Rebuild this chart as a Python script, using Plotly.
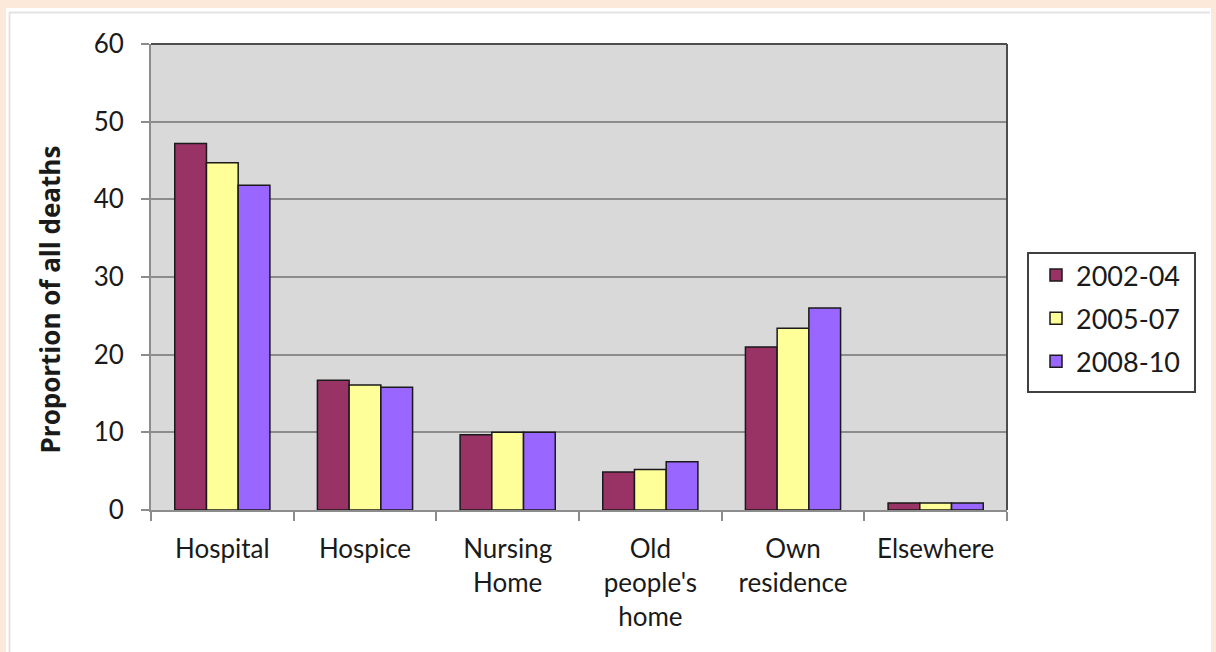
import plotly.graph_objects as go

categories = ["Hospital", "Hospice", "Nursing<br>Home", "Old<br>people's<br>home", "Own<br>residence", "Elsewhere"]
series_names = ["2002-04", "2005-07", "2008-10"]
values_2002_04 = [47.2, 16.7, 9.7, 4.9, 21.0, 0.9]
values_2005_07 = [44.7, 16.1, 10.0, 5.2, 23.4, 0.9]
values_2008_10 = [41.8, 15.8, 10.0, 6.2, 26.0, 0.9]
colors = ["#993366", "#FFFF99", "#9966FF"]

W, H = 1216, 652
L, R, T, B = 151, 1007, 44, 510  # plot area pixel box


def px(x):
    return (x - L) / (R - L)


def py(y):
    return (B - y) / (B - T)


font_family = "Lato, 'Open Sans', sans-serif"
text_color = "#1a1a1a"
peach = "#FCE9DA"

fig = go.Figure()
for name, vals, col in zip(series_names, [values_2002_04, values_2005_07, values_2008_10], colors):
    fig.add_trace(go.Bar(
        x=categories, y=vals, name=name, legendgroup=name,
        marker=dict(color=col, line=dict(color="#1a1a1a", width=1.5)),
    ))

shapes = [
    # peach page border strips
    dict(type="rect", xref="paper", yref="paper", x0=px(0), x1=px(W), y0=py(8), y1=py(0),
         fillcolor=peach, line=dict(width=0), layer="below"),
    dict(type="rect", xref="paper", yref="paper", x0=px(0), x1=px(6), y0=py(H), y1=py(0),
         fillcolor=peach, line=dict(width=0), layer="below"),
    dict(type="rect", xref="paper", yref="paper", x0=px(1211), x1=px(W), y0=py(H), y1=py(0),
         fillcolor=peach, line=dict(width=0), layer="below"),
    # light grey inner frame lines
    dict(type="line", xref="paper", yref="paper", x0=px(9), x1=px(1210), y0=py(12.5), y1=py(12.5),
         line=dict(color="#E3E3E3", width=2)),
    dict(type="line", xref="paper", yref="paper", x0=px(9.5), x1=px(9.5), y0=py(12.5), y1=py(H),
         line=dict(color="#E3E3E3", width=2)),
    # darker top and right plot border
    dict(type="line", xref="paper", yref="paper", x0=0, x1=1, y0=1, y1=1,
         line=dict(color="#4d4d4d", width=2)),
    dict(type="line", xref="paper", yref="paper", x0=1, x1=1, y0=0, y1=1,
         line=dict(color="#4d4d4d", width=2)),
    # legend frame
    dict(type="rect", xref="paper", yref="paper", x0=px(1028), x1=px(1195), y0=py(392), y1=py(253),
         line=dict(color="#404040", width=2), fillcolor="rgba(0,0,0,0)"),
]

fig.update_layout(
    width=W, height=H,
    margin=dict(l=L, r=W - R, t=T, b=H - B, pad=0),
    paper_bgcolor="white",
    plot_bgcolor="#D9D9D9",
    barmode="group", bargap=0.333, bargroupgap=0,
    font=dict(family=font_family, size=26, color=text_color),
    showlegend=True,
    legend=dict(
        x=px(1036), y=py(251), xanchor="left", yanchor="top",
        borderwidth=0, bgcolor="rgba(0,0,0,0)",
        font=dict(size=27, color=text_color),
        tracegroupgap=5, itemwidth=30,
    ),
    shapes=shapes,
    annotations=[dict(
        text="<b>Proportion of all deaths</b>", textangle=-90,
        xref="paper", yref="paper", x=px(49.5), y=py(300),
        xanchor="center", yanchor="middle", showarrow=False,
        font=dict(family="'Open Sans', Lato, sans-serif", size=26, color=text_color),
    )],
)

fig.update_xaxes(
    showline=True, linecolor="#8c8c8c", linewidth=2,
    ticks="outside", tickson="boundaries", ticklen=9, tickcolor="#8c8c8c", tickwidth=2,
    showgrid=False, tickfont=dict(size=26, color=text_color),
    ticklabelstandoff=15,
)
fig.update_yaxes(
    range=[0, 60], dtick=10, tick0=0,
    showline=True, linecolor="#8c8c8c", linewidth=2,
    ticks="outside", ticklen=8, tickcolor="#8c8c8c", tickwidth=2,
    showgrid=True, gridcolor="#8c8c8c", gridwidth=1.5,
    zeroline=False,
    tickfont=dict(size=26, color=text_color),
    ticklabelstandoff=12,
)

fig.write_html(
    "out.html",
    config={"displayModeBar": False},
    post_script="document.body.style.margin='0';document.body.style.overflow='hidden';",
)
